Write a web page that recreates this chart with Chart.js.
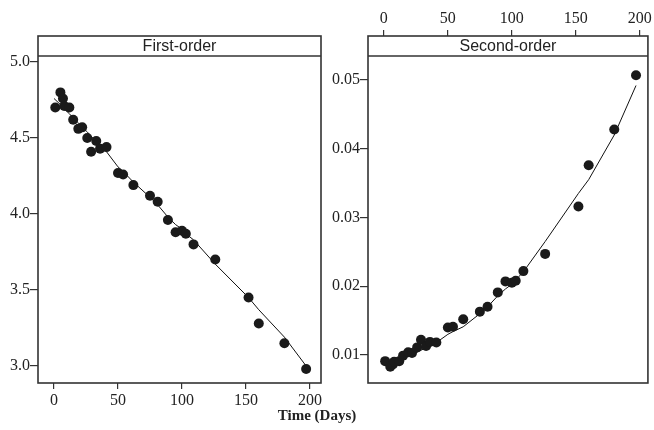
<!DOCTYPE html>
<html>
<head>
<meta charset="utf-8">
<script src="https://cdn.jsdelivr.net/npm/chart.js@4/dist/chart.umd.min.js"></script>
<style>
body{margin:0;background:#fff;width:654px;height:430px;position:relative;overflow:hidden}
canvas{position:absolute;top:0}
#c1{left:0}
#c2{left:330px}
#xt{position:absolute;left:250px;width:134px;top:406px;text-align:center;font:bold 15px "Liberation Serif";color:#222;line-height:18px}
</style>
</head>
<body>
<canvas id="c1" width="330" height="420"></canvas>
<canvas id="c2" width="324" height="400"></canvas>
<div id="xt">Time (Days)</div>
<script>
// observed points (days, ln C and 1/C)
var days = [1,5,7,8,12,15,19,22,26,29,33,36,41,50,54,62,75,81,89,95,100,103,109,126,152,160,180,197];
var firstOrder = [4.70,4.80,4.76,4.71,4.70,4.62,4.56,4.57,4.50,4.41,4.48,4.43,4.44,4.27,4.26,4.19,4.12,4.08,3.96,3.88,3.89,3.87,3.80,3.70,3.45,3.28,3.15,2.98];
var secondOrder = [0.0091,0.0083,0.0086,0.0090,0.0091,0.0099,0.0104,0.0103,0.0111,0.0122,0.0113,0.0119,0.0118,0.0140,0.0141,0.0152,0.0163,0.0170,0.0191,0.0207,0.0205,0.0208,0.0222,0.0247,0.0316,0.0376,0.0428,0.0507];

// fitted curves
var fitDays = [0,5,8,12,15,19,22,26,29,33,36,41,50,54,62,75,81,89,95,100,103,109,126,152,160,180,197];
var fitFirst = [4.76,4.72,4.69,4.66,4.63,4.60,4.57,4.54,4.51,4.48,4.45,4.41,4.31,4.28,4.21,4.11,4.06,3.98,3.93,3.90,3.87,3.83,3.67,3.45,3.37,3.19,3.00];
var fitSecond = [0.0088,0.0090,0.0092,0.0094,0.0096,0.0099,0.0101,0.0104,0.0107,0.0110,0.0113,0.0118,0.0130,0.0134,0.0141,0.0160,0.0170,0.0186,0.0196,0.0203,0.0209,0.0221,0.0265,0.0335,0.0355,0.0420,0.0492];

var xTicks = [0,50,100,150,200];
var yTicksFirst = [3.0,3.5,4.0,4.5,5.0];
var yTicksSecond = [0.01,0.02,0.03,0.04,0.05];

var ink = '#222';

function pts(xs, ys){
    var out = [];
    for (var i=0;i<xs.length;i++) out.push({x:xs[i], y:ys[i]});
    return out;
}

var strip = {//panel frame + header strip
    id:'strip',
    afterDraw: function(chart, args, opts){
        var a = chart.chartArea;
        var ctx = chart.ctx;
        ctx.save();
        ctx.fillStyle = '#fff';
        ctx.fillRect(a.left, a.top, a.right-a.left, 20);
        ctx.strokeStyle = '#333';
        ctx.lineWidth = 1.6;
        ctx.strokeRect(a.left, a.top, a.right-a.left, a.bottom-a.top);
        ctx.beginPath();
        ctx.moveTo(a.left, a.top+20);
        ctx.lineTo(a.right, a.top+20);
        ctx.stroke();
        ctx.fillStyle = ink;
        ctx.font = '16px "Liberation Sans"';
        ctx.textAlign = 'center';
        ctx.textBaseline = 'middle';
        ctx.fillText(opts.text, (a.left+a.right)/2, a.top+10.5);
        ctx.restore();
    }
};

function axisGrid(len){
    return {display:true, drawOnChartArea:false, drawTicks:true, tickLength:len, color:'#333', lineWidth:1.2};
}
function tickFont(){
    return {family:'Liberation Serif', size:16};
}

function makeChart(id, ys, fit, cfg){
    return new Chart(document.getElementById(id).getContext('2d'), {
        type:'scatter',
        data:{
            datasets:[{
                data: pts(days, ys),
                pointRadius:5,
                pointBackgroundColor:'#1a1a1a',
                pointBorderWidth:0,
                showLine:false
            },{
                type:'line',
                data: pts(fitDays, fit),
                borderColor:'#111',
                borderWidth:1,
                pointRadius:0,
                tension:0,
                fill:false
            }]
        },
        options:{
            responsive:false,
            animation:false,
            layout:{padding:cfg.padding},
            plugins:{legend:{display:false}, tooltip:{enabled:false}, strip:{text:cfg.title}},
            scales:{
                x:{
                    type:'linear',
                    position:cfg.xPos,
                    min:cfg.xMin, max:cfg.xMax,
                    grid:axisGrid(6),
                    border:{display:false},
                    afterBuildTicks:function(s){ s.ticks = xTicks.map(function(v){return {value:v};}); },
                    afterFit:function(s){ s.height = cfg.xH; },
                    ticks:{font:tickFont(), color:ink, padding:2, maxRotation:0,
                        callback:function(v){ return v; }}
                },
                y:{
                    min:cfg.yMin, max:cfg.yMax,
                    grid:axisGrid(8),
                    border:{display:false},
                    afterBuildTicks:function(s){ s.ticks = cfg.yTicks.map(function(v){return {value:v};}); },
                    afterFit:function(s){ s.width = 38; },
                    ticks:{font:tickFont(), color:ink, padding:0,
                        callback:function(v){ return v.toFixed(cfg.dec); }}
                }
            }
        },
        plugins:[strip]
    });
}

makeChart('c1', firstOrder, fitFirst, {
    title:'First-order', xPos:'bottom', xMin:-12.5, xMax:208.6, xH:37,
    yMin:2.888, yMax:5.171, yTicks:yTicksFirst, dec:1,
    padding:{top:36, right:9, bottom:0, left:0}
});
makeChart('c2', secondOrder, fitSecond, {
    title:'Second-order', xPos:'top', xMin:-12.4, xMax:206.3, xH:36,
    yMin:0.00592, yMax:0.0564, yTicks:yTicksSecond, dec:2,
    padding:{top:0, right:3, bottom:17, left:0}
});
</script>
</body>
</html>
